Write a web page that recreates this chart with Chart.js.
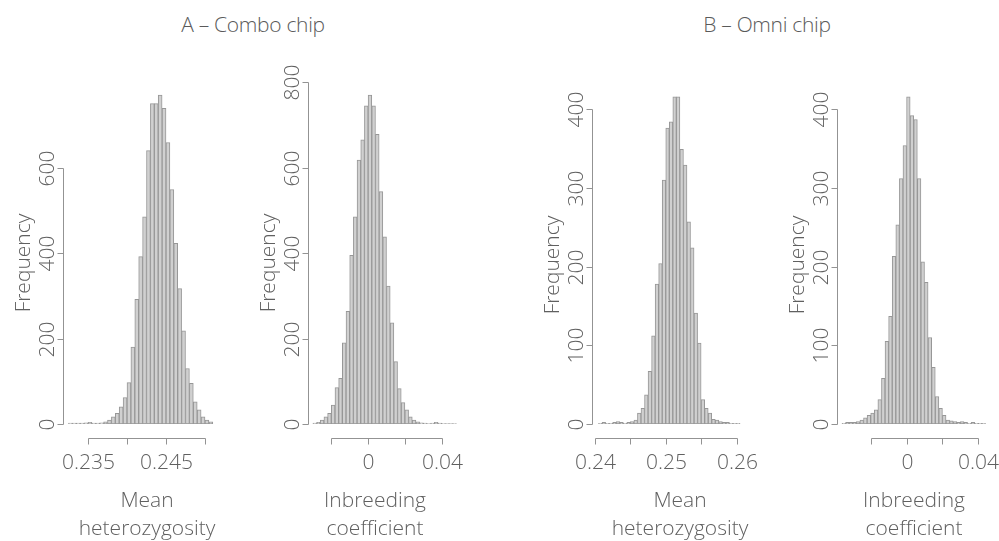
<!DOCTYPE html>
<html>
<head>
<meta charset="utf-8">
<script src="https://cdn.jsdelivr.net/npm/chart.js"></script>
<style>
  html, body { margin: 0; padding: 0; background: #fff; }
  #wrap { position: relative; width: 999px; height: 541px; overflow: hidden; }
  #wrap canvas { position: absolute; left: 0; top: 0; }
  .ttl { position: absolute; top: 10px; font: 300 21px "Open Sans", sans-serif; color: #5a5a5a;
         white-space: nowrap; transform: translateX(-50%); letter-spacing: -0.3px; }
</style>
</head>
<body>
<div id="wrap">
  <div class="ttl" style="left:253px">A – Combo chip</div>
  <div class="ttl" style="left:767px">B – Omni chip</div>
  <canvas id="a1" width="999" height="541"></canvas>
  <canvas id="a2" width="999" height="541"></canvas>
  <canvas id="b1" width="999" height="541"></canvas>
  <canvas id="b2" width="999" height="541"></canvas>
</div>
<script>
// histogram bins: first break + bin width, then the counts per bin
const a1FirstBreak = 0.2325, a1BinWidth = 0.0005;
const a1Counts = [2, 2, 2, 2, 3, 4, 2, 2, 3, 5, 9, 17, 25, 40, 62, 97, 180, 292, 392, 485,
  640, 750, 750, 770, 739, 659, 549, 423, 317, 218, 130, 95, 52, 33, 17, 9, 5];

const a2FirstBreak = -0.030, a2BinWidth = 0.002;
const a2Counts = [2, 4, 9, 17, 25, 44, 85, 107, 190, 264, 395, 485, 618, 665, 745, 770, 745, 678,
  544, 438, 323, 237, 146, 83, 50, 33, 17, 9, 5, 3, 2, 1, 2, 4, 2, 1, 1, 1, 1];

const b1FirstBreak = 0.2405, b1BinWidth = 0.0005;
const b1Counts = [1, 2, 1, 1, 2, 3, 2, 1, 2, 3, 5, 14, 20, 37, 67, 112, 178, 204, 310, 376,
  384, 416, 416, 349, 329, 257, 224, 141, 103, 31, 20, 14, 6, 5, 3, 2, 2, 1, 1, 1];

const b2FirstBreak = -0.036, b2BinWidth = 0.002;
const b2Counts = [1, 2, 2, 2, 3, 5, 8, 11, 14, 18, 31, 58, 105, 137, 213, 253, 312, 354, 416, 392,
  387, 312, 206, 180, 110, 72, 35, 20, 11, 5, 4, 3, 2, 3, 2, 1, 2, 1, 1, 1];

// tick values and labels
const a1XTicks = [0.235, 0.240, 0.245, 0.250];
const a1XLabels = ['0.235', '', '0.245', ''];
const a1YTicks = [0, 200, 400, 600];

const a2XTicks = [-0.02, 0, 0.02, 0.04];
const a2XLabels = ['', '0', '', '0.04'];
const a2YTicks = [0, 200, 400, 600, 800];

const b1XTicks = [0.24, 0.245, 0.25, 0.255, 0.26];
const b1XLabels = ['0.24', '', '0.25', '', '0.26'];
const b1YTicks = [0, 100, 200, 300, 400];

const b2XTicks = [-0.02, 0, 0.02, 0.04];
const b2XLabels = ['', '0', '', '0.04'];
const b2YTicks = [0, 100, 200, 300, 400];

const xTitleMH = ['Mean', 'heterozygosity'];
const xTitleIC = ['Inbreeding', 'coefficient'];
const yTitle = 'Frequency';

const FILL = '#d0d0d0', EDGE = '#979797', AXIS = '#939393', TEXT = '#606060';
const FONT = '300 21px "Open Sans", sans-serif';

// R-style axes: line only between first and last tick, sitting off the plot
const rAxes = {
  id: 'rAxes',
  afterDraw(chart, args, o) {
    const ctx = chart.ctx, xs = chart.scales.x, ys = chart.scales.y;
    const seg = (x1, y1, x2, y2) => { ctx.beginPath(); ctx.moveTo(x1, y1); ctx.lineTo(x2, y2); ctx.stroke(); };
    ctx.save();
    ctx.strokeStyle = AXIS; ctx.lineWidth = 1; ctx.fillStyle = TEXT; ctx.font = FONT;

    const ax = Math.round(o.yAxisX) + 0.5;
    const yTop = Math.round(ys.getPixelForValue(o.yTicks[o.yTicks.length - 1])) + 0.5;
    const yBot = Math.round(ys.getPixelForValue(o.yTicks[0])) + 0.5;
    seg(ax, yBot, ax, yTop);
    o.yTicks.forEach(v => {
      const p = Math.round(ys.getPixelForValue(v)) + 0.5;
      seg(ax - 6, p, ax, p);
      ctx.save(); ctx.translate(ax - 10, p); ctx.rotate(-Math.PI / 2);
      ctx.textAlign = 'center'; ctx.textBaseline = 'alphabetic'; ctx.fillText(String(v), 0, 0);
      ctx.restore();
    });
    ctx.save(); ctx.translate(ax - 34, o.yTitleY); ctx.rotate(-Math.PI / 2);
    ctx.textAlign = 'center'; ctx.fillText(yTitle, 0, 0); ctx.restore();

    const ay = Math.round(o.xAxisY) + 0.5;
    const xL = Math.round(xs.getPixelForValue(o.xTicks[0])) + 0.5;
    const xR = Math.round(xs.getPixelForValue(o.xTicks[o.xTicks.length - 1])) + 0.5;
    seg(xL, ay, xR, ay);
    ctx.textAlign = 'center';
    o.xTicks.forEach((v, i) => {
      const p = Math.round(xs.getPixelForValue(v)) + 0.5;
      seg(p, ay, p, ay + 6);
      if (o.xLabels[i]) ctx.fillText(o.xLabels[i], p, ay + 30);
    });
    ctx.fillText(o.xTitle[0], o.xTitleX, 507);
    ctx.fillText(o.xTitle[1], o.xTitleX, 535);
    ctx.restore();
  }
};

function makeHist(id, firstBreak, binWidth, counts, ax) {
  const data = counts.map((c, i) => ({ x: firstBreak + (i + 0.5) * binWidth, y: c }));
  const xppu = (ax.xRef[3] - ax.xRef[1]) / (ax.xRef[2] - ax.xRef[0]);
  const yppu = (ax.yRef[3] - ax.yRef[1]) / (ax.yRef[2] - ax.yRef[0]);
  const area = { left: ax.yAxisX, right: ax.right, top: 60, bottom: 424 };
  return new Chart(document.getElementById(id), {
    type: 'bar',
    data: { datasets: [{
      data,
      backgroundColor: FILL,
      borderColor: EDGE,
      borderWidth: 1,
      borderSkipped: false,
      barPercentage: 1,
      categoryPercentage: 1
    }] },
    options: {
      responsive: false,
      animation: false,
      devicePixelRatio: 1,
      layout: { padding: { left: area.left, right: 999 - area.right, top: area.top, bottom: 541 - area.bottom } },
      plugins: {
        legend: { display: false },
        tooltip: { enabled: false },
        rAxes: ax
      },
      scales: {
        x: { type: 'linear', offset: false, display: false,
             min: ax.xRef[0] + (area.left - ax.xRef[1]) / xppu,
             max: ax.xRef[0] + (area.right - ax.xRef[1]) / xppu },
        y: { display: false,
             min: ax.yRef[0] + (area.bottom - ax.yRef[1]) / yppu,
             max: ax.yRef[0] + (area.top - ax.yRef[1]) / yppu }
      }
    },
    plugins: [rAxes]
  });
}

makeHist('a1', a1FirstBreak, a1BinWidth, a1Counts, {
  yAxisX: 63, xAxisY: 438, right: 222, yTitleY: 263, xTitleX: 147,
  xRef: [0.235, 88, 0.250, 205], yRef: [0, 424, 600, 167.7],
  xTicks: a1XTicks, xLabels: a1XLabels, yTicks: a1YTicks, xTitle: xTitleMH
});
makeHist('a2', a2FirstBreak, a2BinWidth, a2Counts, {
  yAxisX: 308, xAxisY: 438, right: 465, yTitleY: 263, xTitleX: 375,
  xRef: [-0.02, 331.3, 0.04, 441.7], yRef: [0, 424, 600, 167.7],
  xTicks: a2XTicks, xLabels: a2XLabels, yTicks: a2YTicks, xTitle: xTitleIC
});
makeHist('b1', b1FirstBreak, b1BinWidth, b1Counts, {
  yAxisX: 592, xAxisY: 438, right: 748, yTitleY: 265, xTitleX: 680,
  xRef: [0.24, 595, 0.26, 736.5], yRef: [0, 424, 400, 109.3],
  xTicks: b1XTicks, xLabels: b1XLabels, yTicks: b1YTicks, xTitle: xTitleMH
});
makeHist('b2', b2FirstBreak, b2BinWidth, b2Counts, {
  yAxisX: 836.7, xAxisY: 438, right: 993, yTitleY: 265, xTitleX: 914,
  xRef: [-0.02, 870.7, 0.04, 978.3], yRef: [0, 424, 400, 109.3],
  xTicks: b2XTicks, xLabels: b2XLabels, yTicks: b2YTicks, xTitle: xTitleIC
});
</script>
</body>
</html>
